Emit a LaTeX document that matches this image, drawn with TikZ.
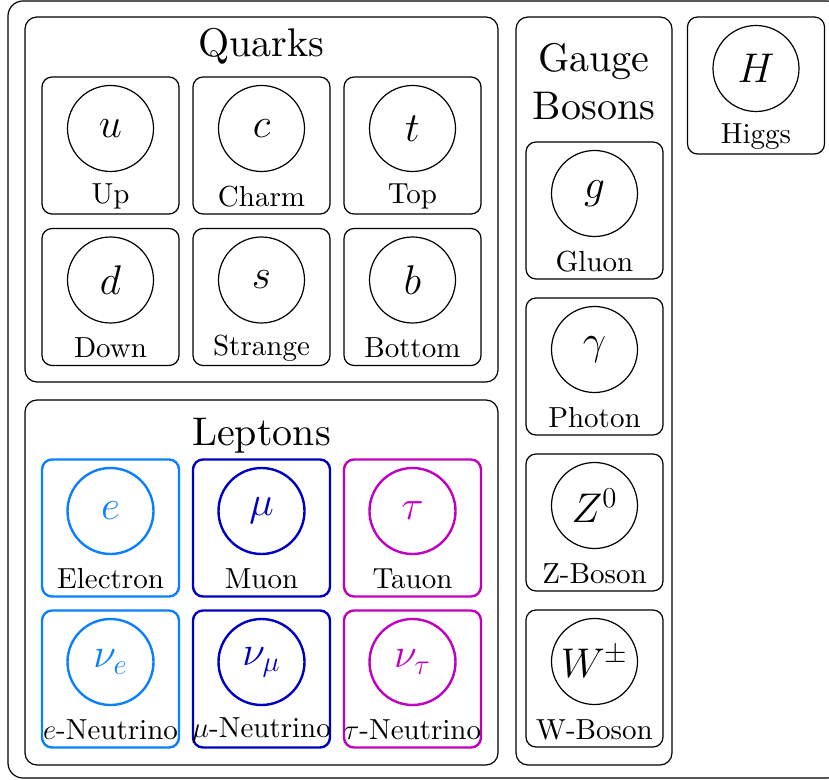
\documentclass[tikz,border=0pt]{standalone}
\usepackage{fontspec}
% one optical size for all text sizes
\setmainfont{lmroman10-regular}[Extension=.otf]
\definecolor{ecol}{RGB}{10,128,255}
\definecolor{mucol}{RGB}{0,0,192}
\definecolor{taucol}{RGB}{192,0,192}

% one particle: tile, circle with symbol, caption
% #1 name, #2 x, #3 y, #4 symbol, #5 caption, #6 colour, #7 line width
\newcommand\particle[7]{%
  \node[tile, draw=#6, line width=#7] (#1) at (#2,#3) {};
  \node[ball, draw=#6, text=#6, line width=#7] (#1-c) at ([yshift=8.5pt]#1.center) {$#4$};
  \node[caption] (#1-l) at ([yshift=-25.5pt]#1.center) {#5};
}

\begin{document}
\begin{tikzpicture}[x=0.5pt,y=-0.5pt,
  frame/.style={draw, rounded corners=7.5pt, line width=0.6pt, inner sep=0pt},
  group/.style={draw, rounded corners=6pt, line width=0.6pt, inner sep=0pt},
  tile/.style={draw, rounded corners=5pt, minimum width=68.5pt, minimum height=68.5pt, inner sep=0pt},
  ball/.style={draw, circle, minimum size=43pt, inner sep=0pt, font=\fontsize{20.74}{24}\selectfont},
  caption/.style={font=\fontsize{14.5}{17}\selectfont, inner sep=0pt},
  title/.style={font=\fontsize{20}{24}\selectfont, inner sep=0pt, anchor=base},
]
\useasboundingbox (0,0) rectangle (829,780);

% outer frame and the three groups
\node[frame, minimum width=417pt, minimum height=388.5pt] (all) at (425,389.5) {};
\node[group, minimum width=236.5pt, minimum height=182.5pt] (quarks) at (261.5,199.5) {};
\node[group, minimum width=236.5pt, minimum height=182.5pt] (leptons) at (261.5,582.5) {};
\node[group, minimum width=78pt, minimum height=374pt] (gauge) at (594,391) {};

% group titles
\node[title] (quarks-t) at (261.5,57) {Quarks};
\node[title] (leptons-t) at (261.5,445) {Leptons};
\node[title] (gauge-t1) at (594,72) {Gauge};
\node[title] (gauge-t2) at (594,120) {Bosons};

% quarks
\particle{up}{110.5}{145.5}{u}{Up}{black}{0.6pt}
\particle{charm}{261.5}{145.5}{c}{Charm}{black}{0.6pt}
\particle{top}{412.5}{145.5}{t}{Top}{black}{0.6pt}
\particle{down}{110.5}{297}{d}{Down}{black}{0.6pt}
\particle{strange}{261.5}{297}{s}{Strange}{black}{0.6pt}
\particle{bottom}{412.5}{297}{b}{Bottom}{black}{0.6pt}

% leptons
\particle{el}{110.5}{528}{e}{Electron}{ecol}{1.2pt}
\particle{mu}{261.5}{528}{\mu}{Muon}{mucol}{1.2pt}
\particle{tau}{412.5}{528}{\tau}{Tauon}{taucol}{1.2pt}
\particle{nue}{110.5}{679}{\nu_e}{$e$-Neutrino}{ecol}{1.2pt}
\particle{numu}{261.5}{679}{\nu_\mu}{$\mu$-Neutrino}{mucol}{1.2pt}
\particle{nutau}{412.5}{679}{\nu_\tau}{$\tau$-Neutrino}{taucol}{1.2pt}

% gauge bosons
\particle{gluon}{594.5}{210.5}{g}{Gluon}{black}{0.6pt}
\particle{photon}{594.5}{366.5}{\gamma}{Photon}{black}{0.6pt}
\particle{zb}{594.5}{522.5}{Z^0}{Z-Boson}{black}{0.6pt}
\particle{wb}{594.5}{678.5}{W^\pm}{W-Boson}{black}{0.6pt}

% Higgs
\particle{higgs}{756}{85.5}{H}{Higgs}{black}{0.6pt}
\end{tikzpicture}
\end{document}
